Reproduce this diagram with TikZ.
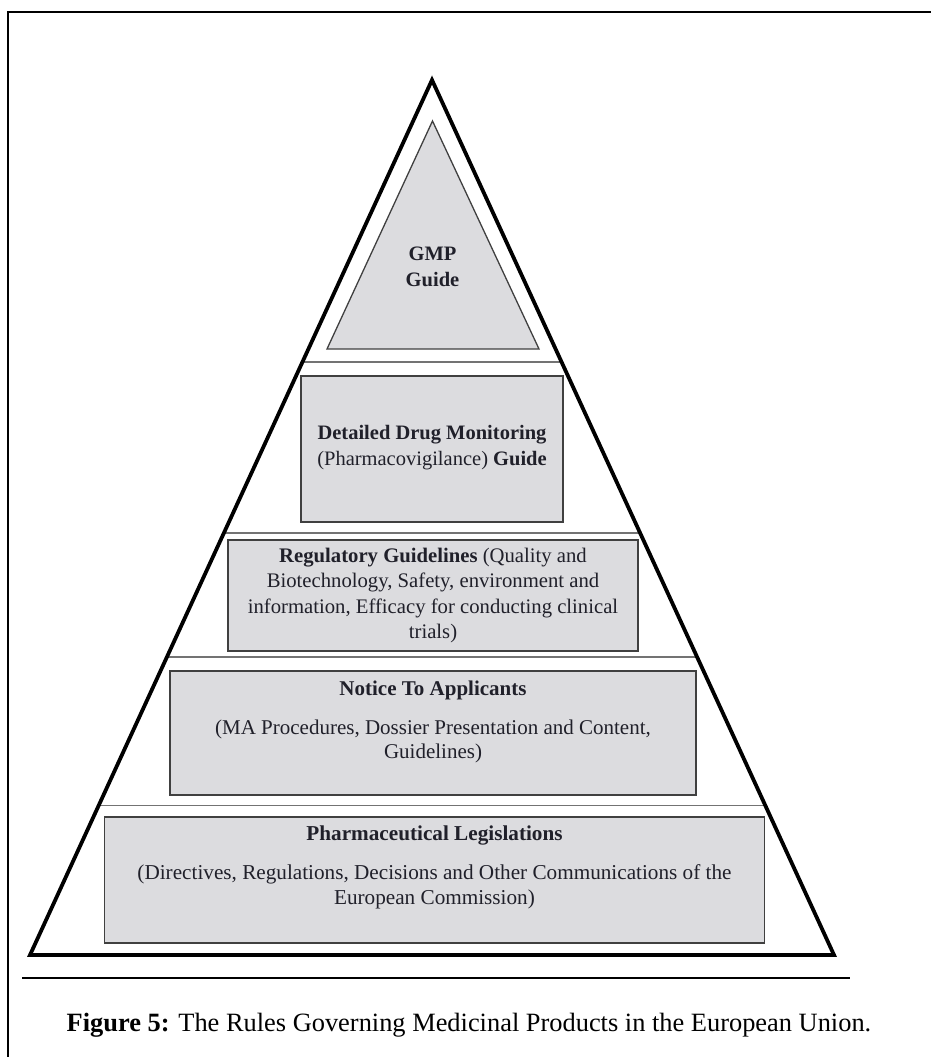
\documentclass[tikz,border=0pt]{standalone}
\usepackage{fontspec}
\setmainfont{Liberation Serif}
\usetikzlibrary{calc}
\definecolor{boxgray}{HTML}{DCDCDF}
\definecolor{txt}{HTML}{20202A}
\tikzset{
  tier/.style={draw=black!75, line width=1.3pt, fill=boxgray, inner sep=0pt},
  tiertext/.style={text=txt, align=center, inner sep=0pt},
  sep/.style={draw=black!55, line width=1.7pt},
  outline/.style={draw=black, line width=3.8pt, line join=miter},
}
\begin{document}
\begin{tikzpicture}[x=1pt,y=-1pt]
\useasboundingbox (0,0) rectangle (931,1057);
% frame
\coordinate (ftl) at (8,12);
\coordinate (ftr) at (931,12);
\coordinate (fbl) at (8,1057);
\draw[line width=2.4pt] (fbl) -- (ftl) -- (ftr);
% big triangle corners
\coordinate (apex) at (432,80);
\coordinate (bl) at (30,955);
\coordinate (br) at (834,955);
% separators (fractions of the height from the apex)
\foreach \n/\t in {s1/0.3219, s2/0.5174, s3/0.6591, s4/0.8291}{
  \coordinate (\n l) at ($(apex)!\t!(bl)$);
  \coordinate (\n r) at ($(apex)!\t!(br)$);
}
\draw[sep] (s1l) -- (s1r);
\draw[sep] (s2l) -- (s2r);
\draw[sep] (s3l) -- (s3r);
\draw[sep] (s4l) -- (s4r);
% GMP triangle
\coordinate (ga) at (432.5,121);
\coordinate (gl) at (327,349);
\coordinate (gr) at (539,349);
\filldraw[fill=boxgray, draw=black!75, line width=1.3pt] (ga) -- (gr) -- (gl) -- cycle;
\node[tiertext, font=\fontsize{20.5}{25.5}\selectfont\bfseries] (gmp) at (432.5,267) {GMP\\Guide};
% Detailed Drug Monitoring
\node[tier, minimum width=262pt, minimum height=146pt] (ddm) at (432,449) {};
\node[tiertext, font=\fontsize{20.5}{26}\selectfont] (ddmt) at (432,447.5) {\textbf{Detailed Drug Monitoring}\\(Pharmacovigilance) \textbf{Guide}};
% Regulatory Guidelines
\node[tier, minimum width=410pt, minimum height=111pt] (reg) at (433,595.5) {};
\node[tiertext, font=\fontsize{20.7}{25.3}\selectfont] (regt) at (433,595.5) {\textbf{Regulatory Guidelines} (Quality and\\Biotechnology, Safety, environment and\\information, Efficacy for conducting clinical\\trials)};
% Notice To Applicants
\node[tier, minimum width=526pt, minimum height=124pt] (nta) at (433,733) {};
\node[tiertext, font=\fontsize{21}{25}\selectfont\bfseries] (ntat) at (433,690) {Notice To Applicants};
\node[tiertext, font=\fontsize{21}{24.5}\selectfont] (ntas) at (433,741.5) {(MA Procedures, Dossier Presentation and Content,\\Guidelines)};
% Pharmaceutical Legislations
\node[tier, minimum width=660pt, minimum height=126pt] (pl) at (434.5,880) {};
\node[tiertext, font=\fontsize{21.2}{25}\selectfont\bfseries] (plt) at (434.5,835) {Pharmaceutical Legislations};
\node[tiertext, font=\fontsize{21.2}{25}\selectfont] (pls) at (434.5,887) {(Directives, Regulations, Decisions and Other Communications of the\\European Commission)};
% outline triangle on top
\draw[outline] (apex) -- (br) -- (bl) -- cycle;
% rule and caption
\coordinate (rl) at (22,978);
\coordinate (rr) at (850,978);
\draw[line width=2.6pt] (rl) -- (rr);
\node[text=black, font=\fontsize{26.4}{30}\selectfont, inner sep=0pt] (cap) at (469,1025) {\textbf{Figure 5:} The Rules Governing Medicinal Products in the European Union.};
\end{tikzpicture}
\end{document}
